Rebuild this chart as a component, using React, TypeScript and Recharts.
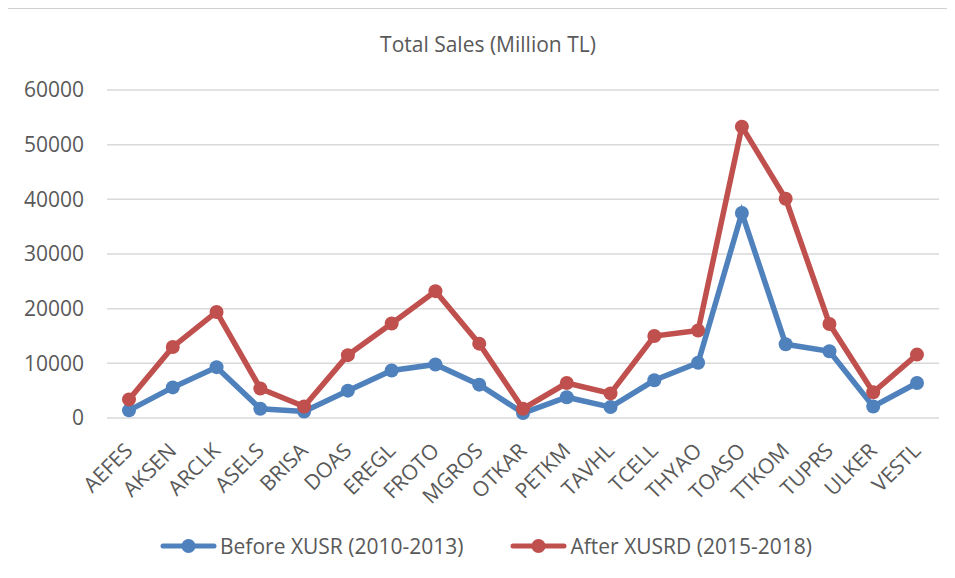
import { LineChart, Line, XAxis, YAxis, CartesianGrid, Legend } from 'recharts';

const CATEGORIES = ['AEFES', 'AKSEN', 'ARCLK', 'ASELS', 'BRISA', 'DOAS', 'EREGL', 'FROTO', 'MGROS', 'OTKAR', 'PETKM', 'TAVHL', 'TCELL', 'THYAO', 'TOASO', 'TTKOM', 'TUPRS', 'ULKER', 'VESTL'];
const BEFORE = [1400, 5600, 9300, 1700, 1200, 5000, 8700, 9800, 6100, 900, 3800, 2000, 6900, 10100, 37500, 13500, 12200, 2100, 6400];
const AFTER = [3400, 13000, 19400, 5400, 2100, 11500, 17300, 23200, 13600, 1700, 6400, 4500, 15000, 16000, 53300, 40100, 17200, 4700, 11600];
const Y_TICKS = [0, 10000, 20000, 30000, 40000, 50000, 60000];

const BLUE = '#4f81bd';
const RED = '#c0504d';
const TEXT = '#595959';
const FONT = '"Open Sans", sans-serif';

const data = CATEGORIES.map((name, i) => ({ name, before: BEFORE[i], after: AFTER[i] }));

function XTick(props: any) {
  const { x, y, payload } = props;
  const ax = x + 5;
  const ay = y + 26;
  return (
    <text
      x={ax}
      y={ay}
      textAnchor="end"
      fill={TEXT}
      fontSize={21}
      fontFamily={FONT}
      transform={`rotate(-45, ${ax}, ${ay})`}
    >
      {payload.value}
    </text>
  );
}

function LegendContent() {
  const items = [
    { label: 'Before XUSR (2010-2013)', color: BLUE },
    { label: 'After XUSRD (2015-2018)', color: RED },
  ];
  return (
    <div style={{ display: 'flex', justifyContent: 'center', gap: 47, fontFamily: FONT, fontSize: 21, color: TEXT, paddingLeft: 26, paddingTop: 4 }}>
      {items.map((it) => (
        <div key={it.label} style={{ display: 'flex', alignItems: 'center' }}>
          <svg width={57} height={16} style={{ marginRight: 3 }}>
            <line x1={3} y1={8} x2={54} y2={8} stroke={it.color} strokeWidth={5} strokeLinecap="round" />
            <circle cx={28.5} cy={8} r={7} fill={it.color} />
          </svg>
          <span>{it.label}</span>
        </div>
      ))}
    </div>
  );
}

export default function App() {
  return (
    <div style={{ marginLeft: -2, width: 980, height: 600, borderLeft: '1px solid #d0d0d0', borderTop: '1px solid #d0d0d0', background: '#fff' }}>
      <div style={{ position: 'relative', width: 962, height: 569 }}>
        <div style={{ position: 'absolute', top: 21, left: 0, width: 962, textAlign: 'center', fontFamily: FONT, fontSize: 21, color: TEXT }}>
          Total Sales (Million TL)
        </div>
        <LineChart width={962} height={569} data={data} margin={{ top: 81, right: 30, bottom: 10, left: 0 }}>
          <CartesianGrid vertical={false} stroke="#d9d9d9" strokeWidth={1.5} />
          <XAxis
            dataKey="name"
            axisLine={false}
            tickLine={false}
            interval={0}
            height={110}
            padding={{ left: 22, right: 22 }}
            tick={<XTick />}
          />
          <YAxis
            width={100}
            domain={[0, 60000]}
            ticks={Y_TICKS}
            axisLine={false}
            tickLine={false}
            tickMargin={17}
            tick={{ fill: TEXT, fontSize: 21, fontFamily: FONT }}
          />
          <Legend verticalAlign="bottom" height={40} content={<LegendContent />} />
          <Line
            dataKey="before"
            stroke={BLUE}
            strokeWidth={5.5}
            dot={{ r: 7, fill: BLUE, stroke: BLUE, strokeWidth: 0 }}
            activeDot={false}
            isAnimationActive={false}
          />
          <Line
            dataKey="after"
            stroke={RED}
            strokeWidth={5.5}
            dot={{ r: 7, fill: RED, stroke: RED, strokeWidth: 0 }}
            activeDot={false}
            isAnimationActive={false}
          />
        </LineChart>
      </div>
    </div>
  );
}
